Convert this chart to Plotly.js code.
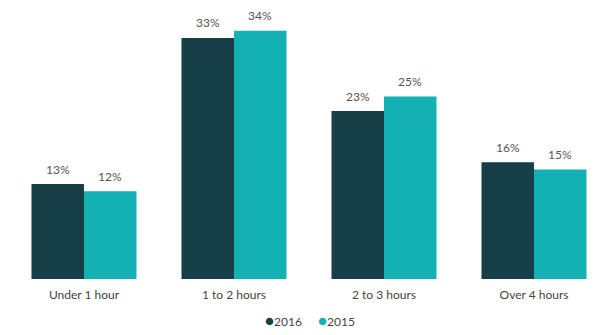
<!DOCTYPE html>
<html>
<head>
<meta charset="utf-8">
<script src="https://cdn.plot.ly/plotly-3.0.1.min.js"></script>
<style>html,body{margin:0;padding:0;background:#fff;}#chart{width:600px;height:335px;}</style>
</head>
<body>
<div id="chart"></div>
<script>
const categories = ["Under 1 hour", "1 to 2 hours", "2 to 3 hours", "Over 4 hours"];
const values2016 = [13, 33, 23, 16];
const values2015 = [12, 34, 25, 15];
const seriesNames = ["2016", "2015"];
const colors = ["#173f48", "#13b0b4"];

const series = [values2016, values2015];
const traces = series.map((vals, k) => ({
  type: "bar", x: categories, y: vals, name: seriesNames[k],
  marker: {color: colors[k]}, showlegend: false, hoverinfo: "none"
}));

const annotations = [];
series.forEach((vals, k) => vals.forEach((v, i) => annotations.push({
  x: i + (k === 0 ? -0.175 : 0.175), y: v, xref: "x", yref: "y",
  text: v + "%", showarrow: false, yanchor: "middle", yshift: 15,
  font: {family: "Lato, sans-serif", size: 12, color: "#555"}
})));

// legend drawn as text entries with coloured dots
const legendX = [0.472, 0.56];
seriesNames.forEach((n, k) => annotations.push({
  x: legendX[k], y: 0, xref: "paper", yref: "paper", xanchor: "center", yanchor: "middle",
  yshift: -41, showarrow: false,
  text: '<span style="color:' + colors[k] + ';font-size:15px">\u25CF</span>' + n,
  font: {family: "Lato, sans-serif", size: 12, color: "#444"}
}));

const layout = {
  width: 600, height: 335,
  margin: {l: 0, r: 0, t: 0, b: 56},
  paper_bgcolor: "#fff", plot_bgcolor: "#fff",
  barmode: "group", bargap: 0.3, bargroupgap: 0,
  font: {family: "Lato, sans-serif", size: 12, color: "#444"},
  xaxis: {type: "category", range: [-0.56, 3.44], showgrid: false, zeroline: false,
          showline: false, ticks: "outside", ticklen: 5, tickcolor: "rgba(0,0,0,0)",
          tickfont: {family: "Lato, sans-serif", size: 12, color: "#444"}},
  yaxis: {range: [0, 38.2], visible: false, showgrid: false, zeroline: false},
  annotations: annotations,
  showlegend: false
};
Plotly.newPlot("chart", traces, layout, {displayModeBar: false, staticPlot: true});
</script>
</body>
</html>
